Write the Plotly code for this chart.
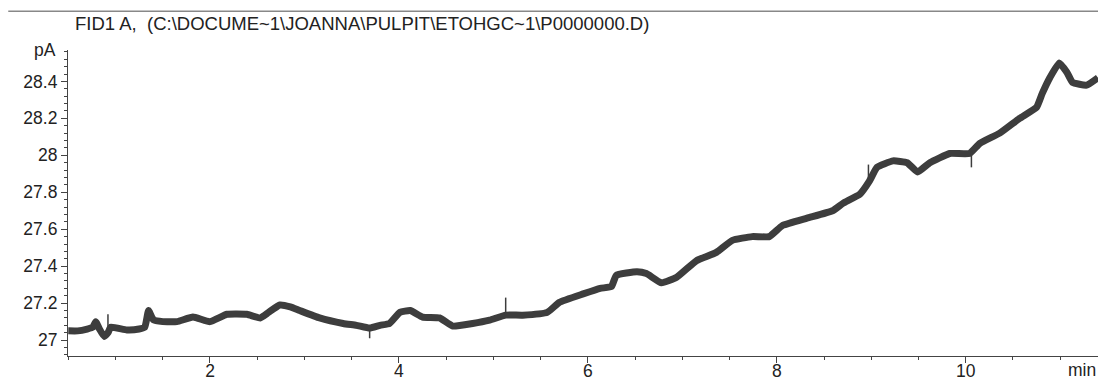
import plotly.graph_objects as go

# Retention time (min) and baseline signal (pA)
time_min = [0.50, 0.60, 0.70, 0.76, 0.79, 0.83, 0.88, 0.92, 0.95, 1.12, 1.25, 1.31,
            1.35, 1.40, 1.50, 1.65, 1.82, 2.00, 2.18, 2.39, 2.53, 2.62, 2.74, 2.85,
            2.95, 3.16, 3.41, 3.55, 3.69, 3.80, 3.90, 4.01, 4.12, 4.25, 4.43, 4.57,
            4.78, 4.96, 5.13, 5.31, 5.57, 5.70, 5.95, 6.13, 6.25, 6.30, 6.52, 6.62,
            6.78, 6.94, 7.15, 7.36, 7.53, 7.74, 7.92, 8.06, 8.32, 8.59, 8.70, 8.88,
            8.98, 9.06, 9.23, 9.38, 9.49, 9.62, 9.83, 10.04, 10.15, 10.36, 10.57,
            10.75, 10.81, 10.89, 10.99, 11.07, 11.13, 11.28, 11.40]
signal_pA = [27.05, 27.05, 27.06, 27.07, 27.10, 27.06, 27.02, 27.04, 27.07, 27.055, 27.06, 27.07,
             27.16, 27.11, 27.10, 27.10, 27.125, 27.10, 27.14, 27.14, 27.12, 27.15, 27.19, 27.18,
             27.16, 27.12, 27.09, 27.08, 27.065, 27.08, 27.09, 27.15, 27.16, 27.125, 27.12, 27.076,
             27.09, 27.108, 27.135, 27.135, 27.15, 27.205, 27.25, 27.28, 27.29, 27.35, 27.37, 27.36,
             27.31, 27.34, 27.43, 27.475, 27.54, 27.56, 27.56, 27.62, 27.66, 27.70, 27.74, 27.79,
             27.86, 27.935, 27.97, 27.96, 27.91, 27.96, 28.01, 28.01, 28.065, 28.12, 28.20,
             28.26, 28.335, 28.42, 28.50, 28.45, 28.395, 28.38, 28.42]

# Narrow noise spikes (time, base, tip)
spike_t = [0.92, 3.69, 5.13, 8.97, 10.06]
spike_base = [27.05, 27.06, 27.135, 27.85, 28.02]
spike_tip = [27.14, 27.01, 27.23, 27.95, 27.935]

x_ticks = [2, 4, 6, 8, 10]
y_ticks = [27, 27.2, 27.4, 27.6, 27.8, 28, 28.2, 28.4]

title_text = "FID1 A,  (C:\\DOCUME~1\\JOANNA\\PULPIT\\ETOHGC~1\\P0000000.D)"

line_color = "#3d3d3d"
text_color = "#222222"
font_family = "Liberation Sans, Arial, sans-serif"

fig = go.Figure()
fig.add_trace(go.Scatter(x=time_min, y=signal_pA, mode="lines",
                         line=dict(color=line_color, width=7, shape="spline", smoothing=0.4),
                         hoverinfo="skip"))

sx, sy = [], []
for t, b, p in zip(spike_t, spike_base, spike_tip):
    sx += [t, t, None]
    sy += [b, p, None]
fig.add_trace(go.Scatter(x=sx, y=sy, mode="lines",
                         line=dict(color=line_color, width=1.5), hoverinfo="skip"))

fig.update_layout(
    width=1098, height=382,
    margin=dict(l=68, r=0, t=50, b=26, autoexpand=False),
    paper_bgcolor="white", plot_bgcolor="white",
    showlegend=False,
    font=dict(family=font_family, size=17.5, color=text_color),
    xaxis=dict(range=[0.497, 11.4], tickvals=x_ticks, ticks="outside", ticklen=6,
               tickcolor="#444", showline=True, linecolor="#444", linewidth=1.2,
               showgrid=False, zeroline=False, automargin=False,
               ticklabelstandoff=-7,
               minor=dict(dtick=0.5, tick0=0, ticks="outside", ticklen=3,
                          tickcolor="#444", showgrid=False),
               tickfont=dict(size=17.5, color=text_color)),
    yaxis=dict(range=[26.914, 28.57], tickvals=y_ticks, ticks="outside", ticklen=6,
               tickcolor="#444", showline=True, linecolor="#444", linewidth=1.2,
               showgrid=False, zeroline=False, automargin=False,
               minor=dict(dtick=0.04, tick0=27, ticks="outside", ticklen=3,
                          tickcolor="#444", showgrid=False),
               tickfont=dict(size=17.5, color=text_color)),
    shapes=[dict(type="line", xref="paper", yref="paper", x0=-0.058, x1=1.0,
                 y0=1.127, y1=1.127, line=dict(color="#888888", width=1.5))],
    annotations=[
        dict(text=title_text, xref="paper", yref="paper", x=0.005, y=1.085,
             xanchor="left", yanchor="middle", showarrow=False,
             font=dict(size=18.5, color=text_color)),
        dict(text="pA", xref="paper", yref="paper", x=0, y=1.0, xshift=-10,
             xanchor="right", yanchor="middle", showarrow=False,
             font=dict(size=17.5, color=text_color)),
        dict(text="min", xref="paper", yref="paper", x=1.0, y=-0.046,
             xanchor="right", yanchor="middle", showarrow=False,
             font=dict(size=17.5, color=text_color)),
    ],
)

fig.write_html("out.html", config={"displayModeBar": False},
               post_script="document.body.style.margin='0';")
